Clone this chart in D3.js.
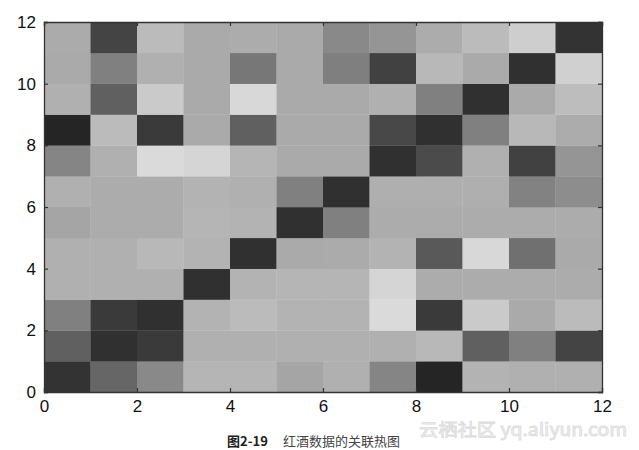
<!DOCTYPE html>
<html><head><meta charset="utf-8">
<script src="https://cdn.jsdelivr.net/npm/d3@7"></script>
<style>body{margin:0;background:#fff}svg{display:block}</style>
</head><body>
<svg id="c" width="639" height="450"></svg>
<script>
// correlation-like values, rows from y=0 (bottom) to y=11 (top), columns x=0..11
const row0  = [0.96, 0.55, 0.27, -0.09, -0.09, 0.04, -0.05, 0.30, 1.07, -0.07, -0.05, -0.05];
const row1  = [0.60, 0.98, 0.90, -0.05, -0.05, -0.05, -0.05, -0.05, -0.11, 0.60, 0.34, 0.82];
const row2  = [0.34, 0.90, 0.98, -0.07, -0.14, -0.07, -0.07, -0.39, 0.90, -0.26, 0.00, -0.14];
const row3  = [-0.05, -0.05, -0.05, 0.98, -0.07, -0.09, -0.09, -0.35, -0.02, -0.02, -0.02, -0.02];
const row4  = [-0.05, -0.05, -0.11, -0.07, 0.98, 0.00, -0.01, -0.07, 0.65, -0.37, 0.47, 0.00];
const row5  = [0.04, -0.02, -0.02, -0.09, -0.07, 0.98, 0.34, -0.02, -0.02, -0.02, -0.02, -0.02];
const row6  = [-0.05, -0.02, -0.02, -0.07, -0.05, 0.34, 0.98, -0.04, -0.04, -0.04, 0.32, 0.23];
const row7  = [0.30, -0.05, -0.39, -0.35, -0.09, 0.00, 0.00, 0.98, 0.77, -0.05, 0.85, 0.17];
const row8  = [1.07, -0.14, 0.90, 0.00, 0.60, 0.00, 0.00, 0.79, 0.98, 0.34, -0.11, -0.02];
const row9  = [-0.05, 0.60, -0.26, 0.00, -0.37, 0.00, 0.00, -0.05, 0.34, 0.98, 0.00, -0.15];
const row10 = [0.00, 0.34, -0.05, 0.00, 0.41, 0.00, 0.35, 0.85, -0.11, 0.00, 0.98, -0.31];
const row11 = [-0.01, 0.82, -0.14, 0.00, -0.02, 0.00, 0.27, 0.17, -0.02, -0.14, -0.29, 0.96];
const matrix = [row0,row1,row2,row3,row4,row5,row6,row7,row8,row9,row10,row11];
const xTicks = [0,2,4,6,8,10,12];
const yTicks = [0,2,4,6,8,10,12];
const captionNum = "图2-19";
const captionText = "红酒数据的关联热图";
const watermark = "云栖社区 yq.aliyun.com";

const svg = d3.select("#c");
const L = 44, R = 602, T = 22, B = 392;
const x = d3.scaleLinear().domain([0,12]).range([L,R]);
const y = d3.scaleLinear().domain([0,12]).range([B,T]);
const gray = d3.scaleLinear().domain([0,1]).range([170,46]);

const cells = [];
matrix.forEach((r,i)=>r.forEach((v,j)=>cells.push({i,j,v})));
svg.append("g").selectAll("rect").data(cells).join("rect")
  .attr("x", d=>x(d.j)).attr("y", d=>y(d.i+1))
  .attr("width", d=>x(d.j+1)-x(d.j)+0.3).attr("height", d=>y(d.i)-y(d.i+1)+0.3)
  .attr("fill", d=>{const g=Math.round(Math.max(0,Math.min(255,gray(d.v))));return d3.rgb(g,g,g);});

const font = "'Liberation Sans', Arial, sans-serif";
const axB = svg.append("g").attr("transform",`translate(0,${B})`)
  .call(d3.axisBottom(x).tickValues(xTicks).tickSize(-4).tickPadding(8).tickFormat(d3.format("d")));
const axT = svg.append("g").attr("transform",`translate(0,${T})`)
  .call(d3.axisTop(x).tickValues(xTicks).tickSize(-4).tickFormat(""));
const axL = svg.append("g").attr("transform",`translate(${L},0)`)
  .call(d3.axisLeft(y).tickValues(yTicks).tickSize(-4).tickPadding(8).tickFormat(d3.format("d")));
const axR = svg.append("g").attr("transform",`translate(${R},0)`)
  .call(d3.axisRight(y).tickValues(yTicks).tickSize(-4).tickFormat(""));
[axB,axT,axL,axR].forEach(a=>{
  a.select(".domain").attr("stroke","#333").attr("stroke-width",1.3);
  a.selectAll(".tick line").attr("stroke","#333").attr("stroke-width",1.2);
  a.selectAll("text").attr("font-family",font).attr("font-size",17).attr("fill","#111");
});
axB.selectAll("text").attr("dy","0.71em");

svg.append("text").attr("x",227).attr("y",446).attr("font-family","'Noto Sans CJK SC', sans-serif")
  .attr("font-size",13).attr("font-weight","bold").attr("fill","#222").text(captionNum);
svg.append("text").attr("x",283).attr("y",446).attr("font-family","'Noto Sans CJK SC', sans-serif")
  .attr("font-size",13).attr("fill","#444").text(captionText);
svg.append("text").attr("x",419).attr("y",436).attr("font-family","'Noto Sans CJK SC', sans-serif")
  .attr("font-size",17).attr("textLength",208).attr("lengthAdjust","spacingAndGlyphs")
  .attr("fill","#f4f4f4").attr("stroke","#dcdcdc").attr("stroke-width",0.8)
  .text(watermark);
</script>
</body></html>
